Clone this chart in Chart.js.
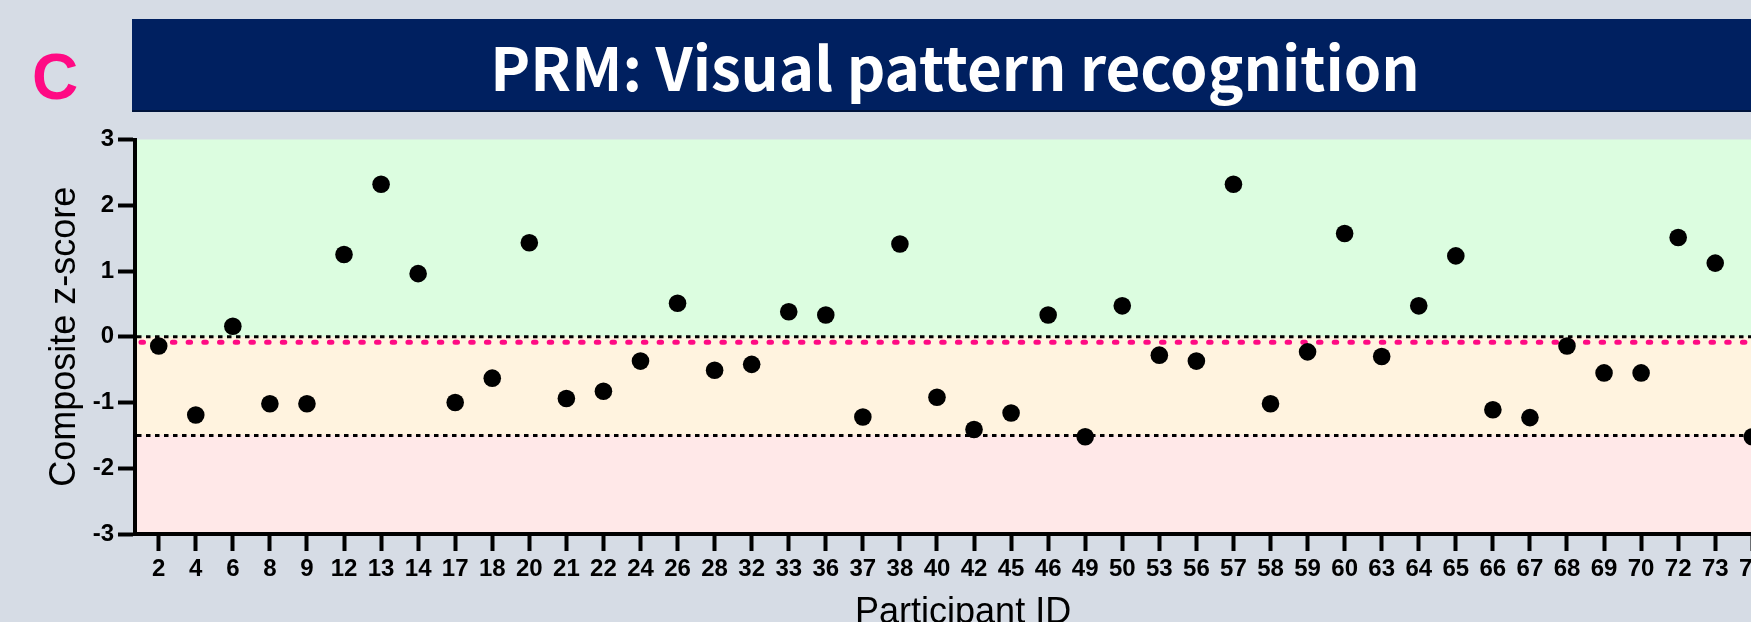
<!DOCTYPE html>
<html>
<head>
  <title>PRM: Visual pattern recognition</title>
  <script src="https://cdn.jsdelivr.net/npm/chart.js"></script>
  <style>
    body {
      margin: 0;
      background: #d6dce5;
      overflow: hidden;
    }
    #page {
      position: relative;
      width: 1751px;
      height: 622px;
      overflow: hidden;
    }
    #chartWrapper {
      position: absolute;
      left: 0;
      top: 0;
    }
    #panel {
      position: absolute;
      left: 32px;
      top: 42px;
      font: bold 64px 'Liberation Sans', Arial, sans-serif;
      line-height: 70px;
      color: #ff0a84;
    }
    #banner {
      position: absolute;
      left: 132px;
      top: 19px;
      width: 1646px;
      height: 91px;
      background: #002060;
      box-shadow: 0 2px 0 #00143c;
      color: #fff;
      font: bold 60px 'Noto Sans CJK KR', 'Noto Sans', sans-serif;
      display: flex;
      align-items: center;
      justify-content: center;
    }
  </style>
</head>
<body>
  <div id="page">
    <div id="chartWrapper">
      <canvas id="prmChart" width="1800" height="660"></canvas>
    </div>
    <div id="panel">C</div>
    <div id="banner">PRM: Visual pattern recognition</div>
  </div>

  <script>
    // participant IDs along the x axis (last one is cut off in the original)
    const participantIds = ['2', '4', '6', '8', '9', '12', '13', '14', '17', '18', '20', '21', '22', '24', '26',
      '28', '32', '33', '36', '37', '38', '40', '42', '45', '46', '49', '50', '53', '56', '57', '58', '59',
      '60', '63', '64', '65', '66', '67', '68', '69', '70', '72', '73', '74'];
    const zScores = [-0.14, -1.19, 0.16, -1.02, -1.02, 1.25, 2.32, 0.96, -1.00, -0.63, 1.43, -0.94, -0.83, -0.37, 0.51,
      -0.51, -0.42, 0.38, 0.33, -1.22, 1.41, -0.92, -1.41, -1.16, 0.33, -1.52, 0.47, -0.28, -0.37, 2.32, -1.02, -0.23,
      1.57, -0.30, 0.47, 1.23, -1.11, -1.23, -0.14, -0.55, -0.55, 1.51, 1.12, -1.52];

    // shaded bands (top edge, bottom edge) and cut-off lines
    const zoneEdges = [3, 0, -1.5, -3];
    const zoneColors = ['#dcfde0', '#fff3df', '#ffe8e8'];
    const cutoffLines = [0, -1.5];
    const meanLine = -0.085;

    const axisFont = "'Liberation Sans', Arial, sans-serif";

    const zonesPlugin = {
      id: 'zones',
      beforeDraw(chart) {
        const { ctx, chartArea: a, scales: { y } } = chart;
        ctx.save();
        for (let i = 0; i < zoneColors.length; i++) {
          const top = y.getPixelForValue(zoneEdges[i]);
          const bottom = y.getPixelForValue(zoneEdges[i + 1]);
          ctx.fillStyle = zoneColors[i];
          ctx.fillRect(a.left, top, a.right - a.left, bottom - top);
        }
        ctx.restore();
      },
      beforeDatasetsDraw(chart) {
        const { ctx, chartArea: a, scales: { y } } = chart;
        ctx.save();
        ctx.strokeStyle = '#000';
        ctx.lineWidth = 3;
        ctx.setLineDash([4.5, 4.5]);
        cutoffLines.forEach(v => {
          const py = y.getPixelForValue(v);
          ctx.beginPath();
          ctx.moveTo(a.left + 2, py);
          ctx.lineTo(a.right, py);
          ctx.stroke();
        });
        const my = y.getPixelForValue(meanLine);
        ctx.strokeStyle = '#ff0a84';
        ctx.lineWidth = 5;
        ctx.lineCap = 'round';
        ctx.setLineDash([2.5, 13.2]);
        ctx.beginPath();
        ctx.moveTo(a.left + 6, my);
        ctx.lineTo(a.right, my);
        ctx.stroke();
        ctx.restore();
      }
    };

    const ctx = document.getElementById('prmChart').getContext('2d');
    const prmChart = new Chart(ctx, {
      type: 'scatter',
      data: {
        datasets: [{
          data: participantIds.map((id, i) => ({ x: i, y: zScores[i] })),
          pointRadius: 8.8,
          pointBackgroundColor: '#000',
          pointBorderColor: '#000',
          pointBorderWidth: 0
        }]
      },
      options: {
        responsive: false,
        animation: false,
        layout: { padding: { top: 139.5, right: 0, bottom: 0, left: 0 } },
        plugins: {
          legend: { display: false },
          tooltip: { enabled: false }
        },
        scales: {
          x: {
            type: 'linear',
            min: -0.64,
            max: 44.05,
            afterBuildTicks: s => { s.ticks = participantIds.map((_, i) => ({ value: i })); },
            afterFit: s => { s.height = 126; },
            ticks: {
              autoSkip: false,
              maxRotation: 0,
              padding: 4,
              color: '#000',
              font: { family: axisFont, size: 24, weight: 'bold' },
              callback: v => participantIds[v]
            },
            grid: { drawOnChartArea: false, tickLength: 17, tickWidth: 4, tickColor: '#000' },
            border: { color: '#000', width: 4 },
            title: {
              display: true,
              text: 'Participant ID',
              color: '#000',
              font: { family: axisFont, size: 36 },
              padding: { top: 0, bottom: 25 }
            }
          },
          y: {
            min: -3,
            max: 3,
            afterFit: s => { s.width = 135; },
            ticks: {
              stepSize: 1,
              padding: 4,
              color: '#000',
              font: { family: axisFont, size: 24, weight: 'bold' }
            },
            grid: { drawOnChartArea: false, tickLength: 17, tickWidth: 4, tickColor: '#000' },
            border: { color: '#000', width: 4 },
            title: {
              display: true,
              text: 'Composite z-score',
              color: '#000',
              font: { family: axisFont, size: 36 },
              padding: { top: 43, bottom: 0 }
            }
          }
        }
      },
      plugins: [zonesPlugin]
    });
  </script>
</body>
</html>
